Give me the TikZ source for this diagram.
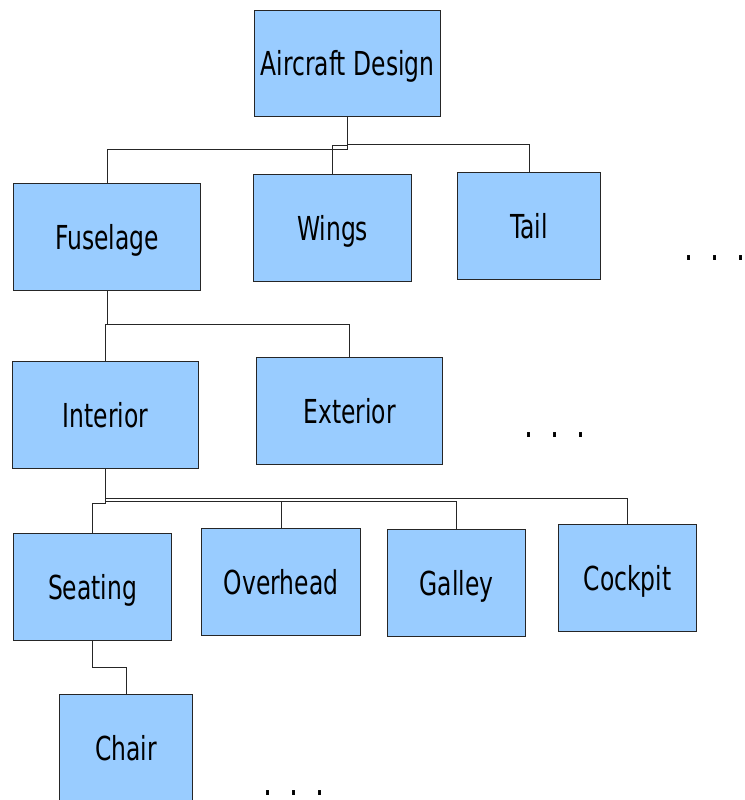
\documentclass[tikz,border=0pt]{standalone}
\usepackage{fontspec}
\setmainfont[FakeStretch=0.71]{DejaVu Sans}
\definecolor{boxblue}{HTML}{99CCFF}
\tikzset{
  box/.style={draw=black!85, line width=1.1pt, fill=boxblue, inner sep=0pt, anchor=north west,
    font=\fontsize{33}{36}\selectfont, text height=24pt, text depth=0pt},
  conn/.style={draw=black!85, line width=0.9pt},
  dots/.style={anchor=base, inner sep=0pt, font=\fontsize{40}{42}\selectfont}
}
\begin{document}
\begin{tikzpicture}[x=1pt,y=-1pt]
\useasboundingbox (0,0) rectangle (744,800);
\clip (0,0) rectangle (744,800);
\node[box, minimum width=186pt, minimum height=106pt] (ad) at (254,10) {Aircraft Design};
\node[box, minimum width=187pt, minimum height=107pt] (fus) at (13,183) {Fuselage};
\node[box, minimum width=158pt, minimum height=107pt] (wings) at (253,174) {Wings};
\node[box, minimum width=143pt, minimum height=107pt] (tail) at (457,172) {Tail};
\node[box, minimum width=186pt, minimum height=107pt] (int) at (12,361) {Interior};
\node[box, minimum width=186pt, minimum height=107pt] (ext) at (256,357) {Exterior};
\node[box, minimum width=158pt, minimum height=107pt] (seat) at (13,533) {Seating};
\node[box, minimum width=159pt, minimum height=107pt] (over) at (201,528) {Overhead};
\node[box, minimum width=138pt, minimum height=107pt] (gal) at (387,529) {Galley};
\node[box, minimum width=138pt, minimum height=107pt] (cock) at (558,524) {Cockpit};
\node[box, minimum width=133pt, minimum height=108pt] (chair) at (59,694) {Chair};

\draw[conn] (ad.south) -- (ad.south |- 0,149) -| (fus.north);
\draw[conn] (ad.south) -- (ad.south |- 0,145) -| (wings.north);
\draw[conn] (ad.south) -- (ad.south |- 0,144) -| (tail.north);
\draw[conn] (fus.south) -- (fus.south |- 0,324) -| (int.north);
\draw[conn] (fus.south) -- (fus.south |- 0,324) -| (ext.north);
\draw[conn] (int.south) -- (int.south |- 0,503) -| (seat.north);
\draw[conn] (int.south) -- (int.south |- 0,501) -| (over.north);
\draw[conn] (int.south) -- (int.south |- 0,501) -| (gal.north);
\draw[conn] (int.south) -- (int.south |- 0,498.5) -| (cock.north);
\draw[conn] (seat.south) -- (seat.south |- 0,667) -| (chair.north);

\node[dots] (d1) at (715,260) {.\hspace{17pt}.\hspace{17pt}.};
\node[dots] (d2) at (555,437) {.\hspace{17pt}.\hspace{17pt}.};
\node[dots] (d3) at (294,795) {.\hspace{17pt}.\hspace{17pt}.};
\end{tikzpicture}
\end{document}
